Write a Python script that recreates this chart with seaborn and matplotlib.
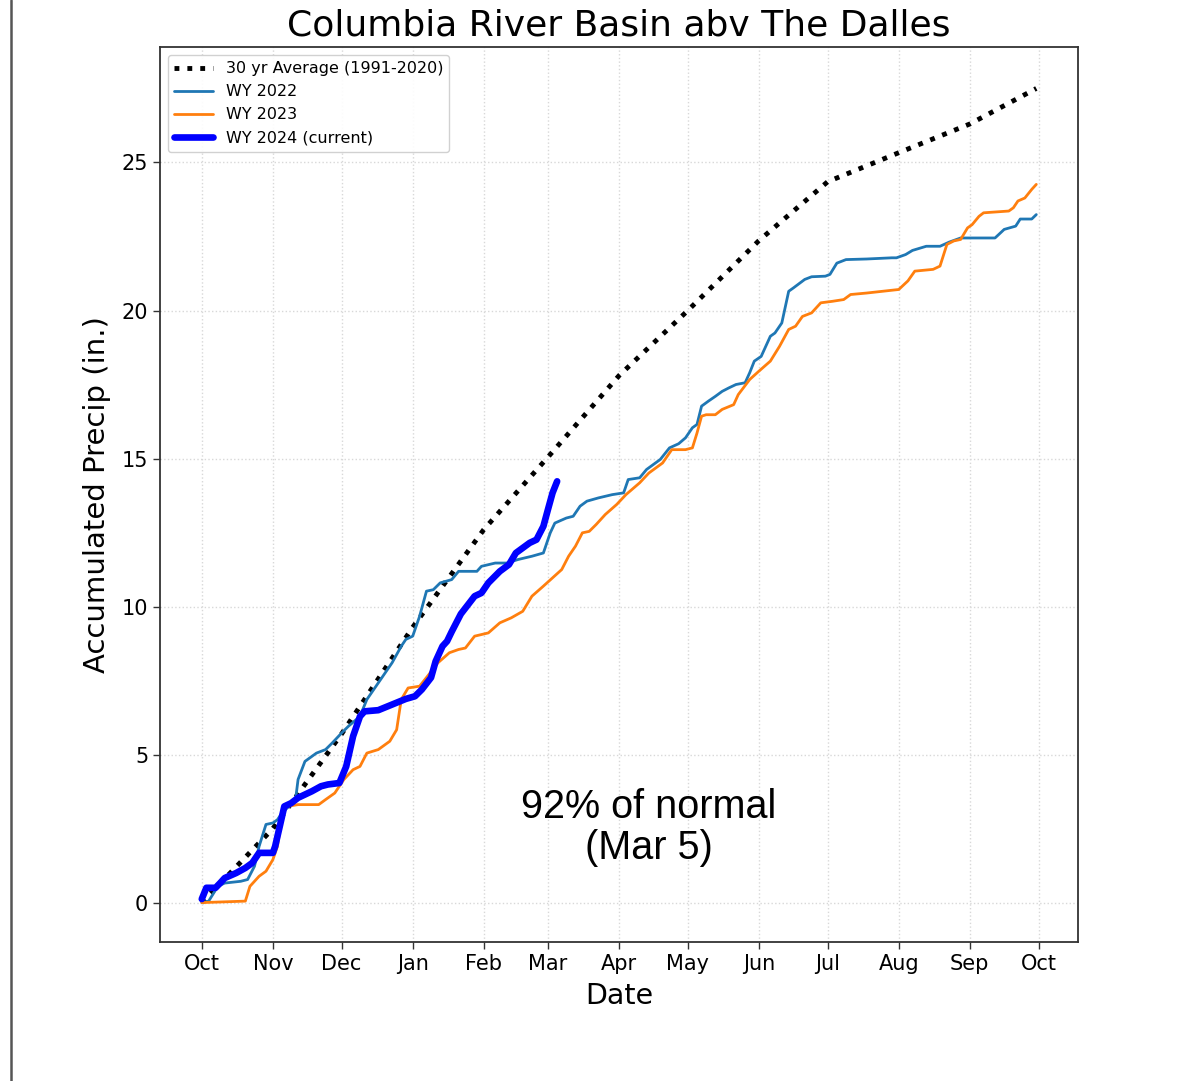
import numpy as np
import pandas as pd
import matplotlib
matplotlib.use("Agg")
import matplotlib.pyplot as plt
import matplotlib.dates as mdates
from matplotlib.lines import Line2D
import seaborn as sns

# ---------------- data (days since Oct 1, accumulated precip in inches) ----------------
avg_days = [0, 31, 61, 92, 123, 151, 182, 212, 243, 273, 304, 335, 364]
avg_vals = [0.0, 2.5, 5.7, 9.3, 12.6, 15.05, 17.8, 20.0, 22.36, 24.35, 25.33, 26.3, 27.5]

wy2022_days = [0, 3, 7, 10, 17, 20, 23, 25, 28, 31, 33, 35, 38, 41, 42, 45, 50, 54, 57, 61,
               64, 69, 72, 76, 83, 87, 89, 92, 95, 98, 101, 104, 109, 112, 120, 122, 128, 133,
               138, 144, 149, 152, 154, 159, 162, 165, 168, 173, 179, 184, 186, 191, 194, 200,
               204, 208, 211, 214, 216, 218, 221, 224, 227, 230, 233, 237, 239, 241, 244, 248,
               250, 253, 256, 258, 263, 266, 272, 274, 277, 281, 290, 301, 303, 307, 310, 316,
               322, 326, 331, 346, 350, 355, 357, 362, 364]
wy2022_vals = [0.0, 0.05, 0.55, 0.66, 0.72, 0.78, 1.23, 1.9, 2.64, 2.69, 2.8, 3.03, 3.25, 3.54,
               4.16, 4.77, 5.05, 5.17, 5.4, 5.73, 5.96, 6.29, 6.86, 7.31, 8.1, 8.66, 8.89, 9.0,
               9.67, 10.52, 10.57, 10.8, 10.91, 11.19, 11.19, 11.36, 11.47, 11.47, 11.59, 11.7,
               11.81, 12.49, 12.82, 12.99, 13.05, 13.39, 13.56, 13.67, 13.78, 13.84, 14.29,
               14.35, 14.63, 14.97, 15.36, 15.5, 15.7, 16.04, 16.15, 16.77, 16.94, 17.1, 17.27,
               17.39, 17.5, 17.56, 17.9, 18.29, 18.45, 19.13, 19.24, 19.58, 20.65, 20.76, 21.05,
               21.14, 21.16, 21.22, 21.6, 21.72, 21.74, 21.78, 21.78, 21.89, 22.03, 22.17, 22.17,
               22.31, 22.45, 22.45, 22.74, 22.85, 23.09, 23.09, 23.24]

wy2023_days = [0, 19, 21, 25, 28, 31, 33, 35, 37, 42, 51, 54, 58, 62, 66, 69, 72, 77, 82, 85,
               87, 90, 95, 99, 103, 108, 112, 115, 119, 125, 130, 135, 140, 144, 149, 153, 157,
               160, 163, 166, 169, 172, 176, 181, 185, 191, 195, 201, 205, 211, 214, 216, 218,
               220, 224, 227, 232, 234, 239, 243, 248, 252, 256, 259, 262, 266, 270, 275, 280,
               283, 290, 297, 304, 308, 311, 319, 322, 325, 328, 331, 334, 336, 339, 341, 352,
               354, 356, 359, 362, 364]
wy2023_vals = [0.0, 0.05, 0.55, 0.89, 1.06, 1.45, 1.9, 2.91, 3.25, 3.31, 3.31, 3.48, 3.7, 4.16,
               4.49, 4.6, 5.05, 5.17, 5.45, 5.84, 6.86, 7.25, 7.31, 7.7, 8.1, 8.44, 8.55, 8.6,
               9.0, 9.11, 9.45, 9.62, 9.84, 10.35, 10.69, 10.97, 11.25, 11.7, 12.04, 12.49,
               12.54, 12.77, 13.11, 13.45, 13.78, 14.18, 14.51, 14.85, 15.3, 15.3, 15.36, 15.86,
               16.43, 16.48, 16.48, 16.66, 16.82, 17.16, 17.67, 17.95, 18.29, 18.79, 19.36,
               19.47, 19.8, 19.92, 20.26, 20.31, 20.37, 20.54, 20.59, 20.65, 20.71, 21.0, 21.33,
               21.39, 21.5, 22.23, 22.35, 22.4, 22.79, 22.9, 23.18, 23.3, 23.36, 23.47, 23.7,
               23.8, 24.09, 24.26]

wy2024_days = [0, 2, 6, 8, 10, 15, 19, 22, 25, 31, 32, 34, 36, 39, 42, 48, 52, 55, 60, 63, 66,
               69, 71, 77, 83, 89, 93, 96, 100, 102, 105, 107, 109, 113, 119, 122, 125, 130, 134,
               137, 143, 146, 149, 151, 153, 155]
wy2024_vals = [0.12, 0.5, 0.5, 0.66, 0.83, 1.0, 1.17, 1.34, 1.68, 1.68, 1.9, 2.57, 3.25, 3.36,
               3.54, 3.76, 3.93, 3.99, 4.04, 4.6, 5.62, 6.29, 6.46, 6.5, 6.69, 6.88, 6.97, 7.2,
               7.6, 8.15, 8.66, 8.83, 9.15, 9.75, 10.35, 10.46, 10.8, 11.19, 11.42, 11.81, 12.15,
               12.26, 12.71, 13.28, 13.84, 14.23]

title = "Columbia River Basin abv The Dalles"
xlabel = "Date"
ylabel = "Accumulated Precip (in.)"
note = "92% of normal\n(Mar 5)"

# ---------------- plotting ----------------
sns.set_style("ticks")
plt.rcParams["font.family"] = ["DejaVu Sans"]
plt.rcParams["text.color"] = "black"
plt.rcParams["axes.labelcolor"] = "black"
plt.rcParams["xtick.color"] = "black"
plt.rcParams["ytick.color"] = "black"
plt.rcParams["xtick.labelcolor"] = "black"
plt.rcParams["ytick.labelcolor"] = "black"

start = pd.Timestamp("2022-10-01")


def to_dates(days):
    return start + pd.to_timedelta(days, unit="D")


fig = plt.figure(figsize=(11.9, 10.81), dpi=100)
ax = fig.add_axes([0.1345, 0.1286, 0.7714, 0.8279])
ax.grid(True, color="#d8d8d8", linestyle=":", linewidth=1.0)
ax.set_axisbelow(True)

sns.lineplot(x=to_dates(avg_days), y=avg_vals, ax=ax, color="black", linestyle=":",
             linewidth=3.5, label="30 yr Average (1991-2020)", estimator=None)
sns.lineplot(x=to_dates(wy2022_days), y=wy2022_vals, ax=ax, color="#1f77b4",
             linewidth=2.0, label="WY 2022", estimator=None)
sns.lineplot(x=to_dates(wy2023_days), y=wy2023_vals, ax=ax, color="#ff7f0e",
             linewidth=2.0, label="WY 2023", estimator=None)
sns.lineplot(x=to_dates(wy2024_days), y=wy2024_vals, ax=ax, color="#0000ff",
             linewidth=4.8, label="WY 2024 (current)", estimator=None)

ax.set_ylim(-1.33, 28.9)
ax.xaxis.set_major_locator(mdates.MonthLocator())
ax.xaxis.set_major_formatter(mdates.DateFormatter("%b"))
ax.tick_params(axis="both", labelsize=15, length=5, width=1.0, color="#333333",
               labelcolor="black")

ax.set_title(title, fontsize=26, pad=8, color="black")
ax.set_xlabel(xlabel, fontsize=20.5, labelpad=6, color="black")
ax.set_ylabel(ylabel, fontsize=21, labelpad=8, color="black")

for s in ax.spines.values():
    s.set_visible(True)
    s.set_color("#333333")
    s.set_linewidth(1.3)

leg = ax.legend(loc="upper left", fontsize=11.5, handlelength=2.4, frameon=True,
                fancybox=True, edgecolor="#cccccc", framealpha=0.9)
for t in leg.get_texts():
    t.set_color("black")

ax.text(0.5327, 0.1274, note, transform=ax.transAxes, ha="center", va="center",
        fontsize=28.5, family=["Liberation Sans", "DejaVu Sans"], linespacing=1.1,
        color="black")

fig.add_artist(Line2D([0.009, 0.009], [0, 1], transform=fig.transFigure,
                      color="#555555", linewidth=1.8))

fig.savefig("out.png", dpi=100, facecolor="white")
